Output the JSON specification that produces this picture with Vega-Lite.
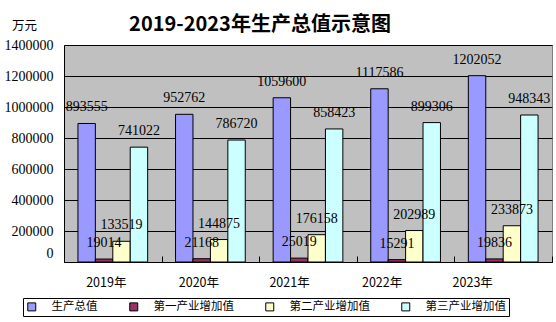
{
  "$schema": "https://vega.github.io/schema/vega-lite/v6.json",
  "width": 488,
  "height": 217,
  "autosize": {"type": "none"},
  "padding": {"left": 64, "top": 45, "right": 4, "bottom": 60},
  "background": "white",
  "title": {
    "text": "2019-2023年生产总值示意图",
    "font": "Noto Sans CJK SC",
    "fontSize": 20,
    "fontWeight": "bold",
    "color": "black",
    "anchor": "middle",
    "baseline": "middle",
    "dx": -48,
    "offset": 0,
    "dy": 26
  },
  "data": {
    "values": [
      {"year": "2019年", "series": "生产总值", "value": 893555},
      {"year": "2019年", "series": "第一产业增加值", "value": 19014},
      {"year": "2019年", "series": "第二产业增加值", "value": 133519},
      {"year": "2019年", "series": "第三产业增加值", "value": 741022},
      {"year": "2020年", "series": "生产总值", "value": 952762},
      {"year": "2020年", "series": "第一产业增加值", "value": 21168},
      {"year": "2020年", "series": "第二产业增加值", "value": 144875},
      {"year": "2020年", "series": "第三产业增加值", "value": 786720},
      {"year": "2021年", "series": "生产总值", "value": 1059600},
      {"year": "2021年", "series": "第一产业增加值", "value": 25019},
      {"year": "2021年", "series": "第二产业增加值", "value": 176158},
      {"year": "2021年", "series": "第三产业增加值", "value": 858423},
      {"year": "2022年", "series": "生产总值", "value": 1117586},
      {"year": "2022年", "series": "第一产业增加值", "value": 15291},
      {"year": "2022年", "series": "第二产业增加值", "value": 202989},
      {"year": "2022年", "series": "第三产业增加值", "value": 899306},
      {"year": "2023年", "series": "生产总值", "value": 1202052},
      {"year": "2023年", "series": "第一产业增加值", "value": 19836},
      {"year": "2023年", "series": "第二产业增加值", "value": 233873},
      {"year": "2023年", "series": "第三产业增加值", "value": 948343}
    ]
  },
  "encoding": {
    "x": {
      "field": "year",
      "type": "nominal",
      "scale": {"paddingInner": 0, "paddingOuter": 0},
      "axis": {
        "title": null,
        "labelAngle": 0,
        "labelFont": "Noto Sans CJK SC",
        "labelFontSize": 12.5,
        "labelColor": "black",
        "labelPadding": 20,
        "labelOffset": {
          "condition": [
            {"test": "datum.value == '2019年'", "value": -7},
            {"test": "datum.value == '2020年'", "value": -12},
            {"test": "datum.value == '2021年'", "value": -19},
            {"test": "datum.value == '2022年'", "value": -24}
          ],
          "value": -31
        },
        "domainColor": "black",
        "tickColor": "black",
        "tickBand": "extent",
        "tickSize": -6,
        "grid": false
      }
    },
    "xOffset": {
      "field": "series",
      "type": "nominal",
      "scale": {
        "domain": ["生产总值", "第一产业增加值", "第二产业增加值", "第三产业增加值"],
        "paddingInner": 0,
        "paddingOuter": 0.8
      }
    },
    "y": {
      "field": "value",
      "type": "quantitative",
      "scale": {"domain": [0, 1400000], "nice": false},
      "axis": {
        "title": "万元",
        "titleAngle": 0,
        "titleFont": "Noto Sans CJK SC",
        "titleFontSize": 12.5,
        "titleFontWeight": "normal",
        "titleColor": "black",
        "titleAlign": "center",
        "titleBaseline": "middle",
        "titleX": -40,
        "titleY": -20,
        "values": [0, 200000, 400000, 600000, 800000, 1000000, 1200000, 1400000],
        "format": "d",
        "labelFont": "Liberation Serif",
        "labelFontSize": 14,
        "labelColor": "black",
        "labelPadding": 11,
        "labelOffset": {"condition": {"test": "datum.value == 0", "value": -9}, "value": 0},
        "ticks": false,
        "domainColor": "black",
        "gridColor": "black",
        "gridWidth": 1,
        "gridOpacity": 1
      }
    }
  },
  "layer": [
    {
      "mark": {"type": "bar", "stroke": "black", "strokeWidth": 1},
      "encoding": {
        "color": {
          "field": "series",
          "type": "nominal",
          "scale": {
            "domain": ["生产总值", "第一产业增加值", "第二产业增加值", "第三产业增加值"],
            "range": ["#9999FF", "#993366", "#FFFFCC", "#CCFFFF"]
          },
          "legend": {
            "title": null,
            "orient": "none",
            "legendX": -41,
            "legendY": 253,
            "direction": "horizontal",
            "columns": 4,
            "symbolType": "square",
            "symbolSize": 64,
            "symbolStrokeColor": "black",
            "symbolStrokeWidth": 1,
            "symbolOpacity": 1,
            "labelFont": "Noto Sans CJK SC",
            "labelFontSize": 11.5,
            "labelColor": "black",
            "labelOffset": 14,
            "labelLimit": 0,
            "columnPadding": 29,
            "padding": 3,
            "strokeColor": "black",
            "fillColor": "white"
          }
        }
      }
    },
    {
      "mark": {
        "type": "text",
        "font": "Liberation Serif",
        "fontSize": 14,
        "color": "black",
        "baseline": "middle",
        "dy": -16
      },
      "encoding": {
        "text": {"field": "value", "type": "quantitative", "format": "d"}
      }
    }
  ],
  "config": {
    "view": {"fill": "#C0C0C0", "stroke": "#808080", "strokeWidth": 1}
  }
}
